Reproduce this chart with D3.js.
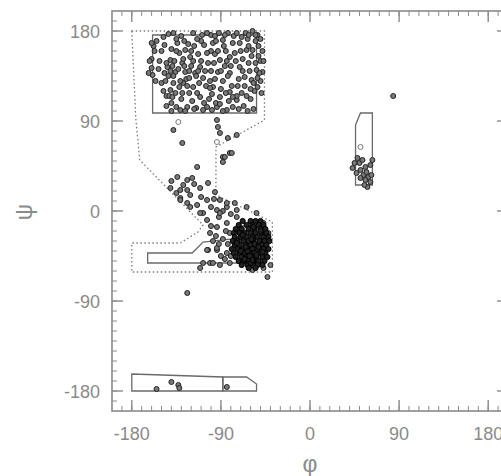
<!DOCTYPE html>
<html lang="en">
  <head>
    <meta charset="utf-8">
    <title>Ramachandran plot</title>
    <style>
      body { margin: 0; background: #fff; }
      svg { display: block; font-family: "Liberation Sans", "DejaVu Sans", sans-serif; }
      .tick-label { fill: #8a8a8a; font-size: 18px; }
      .axis-title { fill: #8a8a8a; font-size: 23px; }
    </style>
  </head>
  <body>
    <script src="https://d3js.org/d3.v7.min.js"></script>
    <script type="text/javascript">

    // tick values (degrees)
    const majorTicks = [-180, -90, 0, 90, 180]
    const minorTicks = d3.range(-190, 191, 10)

    // [phi, psi] points
    const betaPts = [
      [-160,143],[-159,136],[-148,174],[-138,178],[-134,168],[-126,161],[-121,154],[-129,148],
      [-141,151],[-144,144],[-136,139],[-126,139],[-116,138],[-111,144],[-103,148],[-109,176],
      [-98,168],[-88,171],[-78,168],[-69,174],[-64,161],[-81,154],[-91,151],[-93,139],
      [-81,138],[-71,144],[-138,128],[-128,128],[-118,124],[-129,118],[-141,121],[-111,114],
      [-98,124],[-91,114],[-81,119],[-74,111],[-124,104],[-131,101],[-94,104],[-84,101],
      [-78,104],[-58,161],[-54,141],[-48,139],[-53,124],[-59,131],
      [-155,170],[-150,160],[-152,150],[-147,138],[-150,128],[-145,115],[-140,108],[-135,172],
      [-132,158],[-137,150],[-133,142],[-125,132],[-120,145],[-117,165],[-113,157],[-108,133],
      [-105,125],[-100,140],[-96,157],[-92,178],[-85,160],[-86,145],[-75,150],[-72,132],
      [-66,125],[-62,148],[-55,170],[-52,155],[-50,130],[-60,112],[-67,105],[-88,130],
      [-102,112],[-115,103],[-122,118],[-127,170],[-143,177],[-118,178],[-100,176],[-83,178],
      [-65,178],[-58,180],[-140,162],[-146,130],[-130,112],[-110,150],[-96,132],[-79,125],
      [-70,160],[-160,152],[-157,160],[-163,138],[-124,125],[-107,166],[-90,122],[-74,115],
      [-56,120],[-48,160],[-53,176],[-136,118],[-112,128],[-119,110],[-104,104],[-82,110],
      [-95,108],[-128,152],[-138,135],[-145,148],[-115,135],[-84,150],[-68,140],[-62,165],
      [-140,100],[-100,160],[-120,160],
      [-158,165],[-153,142],[-148,120],[-143,135],[-139,145],[-135,160],[-131,130],[-127,145],
      [-123,167],[-122,140],[-118,150],[-114,118],[-110,170],[-106,140],[-104,158],[-101,130],
      [-99,117],[-97,148],[-95,170],[-93,160],[-90,140],[-87,165],[-85,118],[-83,135],
      [-80,145],[-77,175],[-76,158],[-73,125],[-71,168],[-68,152],[-66,134],[-64,115],
      [-63,172],[-61,140],[-59,155],[-57,128],[-55,148],[-52,165],[-51,138],[-49,118],
      [-50,172],[-57,102],[-63,100],[-72,102],[-88,100],[-99,101],[-108,101],[-117,102],
      [-126,100],[-135,104],[-142,115],[-156,130],[-162,150],[-160,168],[-147,166],[-141,140],
      [-130,175],[-114,172],[-104,178],[-96,175],[-86,176],[-74,178],[-62,176],[-55,176],
      [-50,150],[-47,150],[-53,133],[-60,122],[-69,118],[-78,114],[-91,107],[-101,123],
      [-107,108],[-113,140],[-122,133],[-132,124],[-139,114],[-145,105]
    ]

    const bridgePts = [
      [-138,81],[-129,68],[-114,44],[-93,84],[-91,78],[-83,73],[-81,58],[-88,54],
      [-94,91],[-86,54],[-88,49],[-79,58],[-74,76],
      [-134,34],[-124,31],[-119,33],[-141,23],[-131,21],[-124,21],[-121,16],[-131,13],
      [-111,23],[-103,28],[-96,19],[-91,11],[-104,11],[-84,4],[-76,8],[-131,11],
      [-124,8],[-94,1],[-84,8],[-74,1],[-104,-9],[-101,-22],
      [-140,30],[-128,26],[-117,27],[-135,18],[-110,14],[-114,6],[-100,4],[-97,12],
      [-108,-2],[-92,-6],[-88,0],[-80,-3],[-121,4],[-111,-2],[-91,-2],[-94,-16],
      [-84,-12],[-81,-22],[-74,-6],[-64,4],[-54,-2],[-47,-12],[-42,-22]
    ]

    const openPts = [[-133,89],[-94,69],[51,64]]

    const alphaPts = [
      [-68,-10],[-60,-10],[-55,-10],[-50,-10],
      [-72,-14],[-64,-14],[-58,-14],[-52,-14],[-47,-14],
      [-75,-18],[-69,-18],[-62,-18],[-56,-18],[-50,-18],[-45,-18],
      [-77,-22],[-71,-22],[-66,-22],[-60,-22],[-55,-22],[-49,-22],[-44,-22],
      [-76,-26],[-70,-26],[-64,-26],[-58,-26],[-53,-26],[-47,-26],[-42,-26],
      [-78,-30],[-73,-30],[-67,-30],[-62,-30],[-57,-30],[-51,-30],[-46,-30],[-41,-30],
      [-76,-34],[-71,-34],[-65,-34],[-60,-34],[-55,-34],[-49,-34],[-44,-34],
      [-79,-38],[-73,-38],[-68,-38],[-63,-38],[-58,-38],[-53,-38],[-47,-38],[-42,-38],
      [-77,-42],[-71,-42],[-66,-42],[-61,-42],[-56,-42],[-50,-42],[-45,-42],
      [-75,-46],[-69,-46],[-64,-46],[-59,-46],[-54,-46],[-48,-46],[-43,-46],
      [-72,-50],[-67,-50],[-62,-50],[-57,-50],[-52,-50],[-46,-50],
      [-69,-54],[-63,-54],[-58,-54],[-53,-54],[-48,-54],
      [-62,-57],[-55,-57],
      [-74,-32],[-63,-40],[-59,-28],[-52,-36],[-66,-48],[-60,-52],[-54,-44],[-68,-24],
      [-50,-20],[-57,-16],[-65,-36],[-61,-45],[-56,-33],[-70,-40],[-48,-41],[-58,-49]
    ]

    const alphaEdgePts = [
      [-84,-42],[-103,-39],[-94,-39],[-108,-52],[-111,-57],[-101,-52],[-91,-54],[-81,-52],
      [-58,-59],[-43,-66],[-40,-54],[-104,-39],[-94,-37],[-47,-57],[-98,-52],[-124,-82],
      [-100,-15],[-95,-25],[-88,-28],[-85,-20],[-90,-45],[-86,-48],[-80,-45],[-83,-33],
      [-98,-30],[-92,-33]
    ]

    const leftAlphaPts = [
      [43,43],[50,48],[56,44],[61,46],[47,38],[54,36],[59,34],[56,31],[61,29],[58,24],
      [53,51],[63,51],[48,53],[45,48],[51,41],[57,39],[62,36],[51,33],[55,26]
    ]

    const otherPts = [
      [84,115],[-155,-178],[-140,-171],[-133,-174],[-132,-177],[-84,-176]
    ]

    // region outlines [phi, psi]
    const allowedRegion = [
      [-180,180],[-176,93],[-172,51],[-108,-14],[-113,-21],[-131,-32],[-180,-32],[-180,-61],
      [-38,-61],[-38,-11],[-95,16],[-95,64],[-46,91],[-46,180]
    ]
    const coreRegions = [
      [[-159,176],[-54,176],[-54,98],[-159,98]],
      [[-164,-42],[-119,-42],[-108,-31],[-78,-28],[-70,-15],[-50,-15],[-48,-52],[-164,-52]],
      [[46,86],[51,98],[63,98],[63,26],[46,26]],
      [[-180,-163],[-88,-166],[-88,-180],[-180,-180]],
      [[-88,-166],[-64,-166],[-54,-173],[-54,-180],[-88,-180]]
    ]

    const w = 501
    const h = 476
    const frame = { left: 112, right: 508, top: 11, bottom: 411 }

    const x = d3.scaleLinear().domain([-200, 200]).range([frame.left, frame.right])
    const y = d3.scaleLinear().domain([-200, 200]).range([frame.bottom, frame.top])

    const svg = d3.select("body").append("svg")
      .attr("width", w)
      .attr("height", h)

    // soft edge like the scanned original
    svg.append("defs").append("filter")
      .attr("id", "soft")
      .append("feGaussianBlur")
      .attr("stdDeviation", 0.5)

    const line = d3.line().x(d => x(d[0])).y(d => y(d[1]))

    // allowed region (dotted)
    svg.append("path")
      .attr("d", line(allowedRegion) + "Z")
      .attr("fill", "none")
      .attr("stroke", "#7a7a7a")
      .attr("stroke-width", 1.3)
      .attr("stroke-dasharray", "1.5,2.5")

    // core regions (solid)
    svg.selectAll(".core")
      .data(coreRegions)
      .enter().append("path")
      .attr("class", "core")
      .attr("d", d => line(d) + "Z")
      .attr("fill", "none")
      .attr("stroke", "#6a6a6a")
      .attr("stroke-width", 1.3)

    // frame
    svg.append("rect")
      .attr("x", frame.left)
      .attr("y", frame.top)
      .attr("width", frame.right - frame.left)
      .attr("height", frame.bottom - frame.top)
      .attr("fill", "none")
      .attr("stroke", "#8a8a8a")
      .attr("stroke-width", 1.6)

    // inward ticks on all four sides
    const tickColor = "#8a8a8a"
    const addTicks = (vals, len, cls) => {
      const g = svg.append("g").attr("stroke", tickColor).attr("stroke-width", cls === "major" ? 1.4 : 1)
      vals.forEach(v => {
        g.append("line").attr("x1", x(v)).attr("x2", x(v)).attr("y1", frame.bottom).attr("y2", frame.bottom - len)
        g.append("line").attr("x1", x(v)).attr("x2", x(v)).attr("y1", frame.top).attr("y2", frame.top + len)
        g.append("line").attr("y1", y(v)).attr("y2", y(v)).attr("x1", frame.left).attr("x2", frame.left + len)
        g.append("line").attr("y1", y(v)).attr("y2", y(v)).attr("x1", frame.right).attr("x2", frame.right - len)
      })
    }
    addTicks(minorTicks, 5, "minor")
    addTicks(majorTicks, 11, "major")

    svg.selectAll(".xlab")
      .data(majorTicks)
      .enter().append("text")
      .attr("class", "tick-label")
      .attr("x", d => x(d))
      .attr("y", 440)
      .attr("text-anchor", "middle")
      .text(d => d)

    svg.selectAll(".ylab")
      .data(majorTicks)
      .enter().append("text")
      .attr("class", "tick-label")
      .attr("x", 100)
      .attr("y", d => y(d) + 7)
      .attr("text-anchor", "end")
      .text(d => d)

    svg.append("text")
      .attr("class", "axis-title")
      .attr("x", 310)
      .attr("y", 472)
      .attr("text-anchor", "middle")
      .text("φ")

    svg.append("text")
      .attr("class", "axis-title")
      .attr("transform", "translate(32, 212) rotate(-90)")
      .attr("text-anchor", "middle")
      .text("ψ")

    // residue points
    const filled = [].concat(betaPts, bridgePts, alphaEdgePts, leftAlphaPts, otherPts)
    const pts = svg.append("g").attr("filter", "url(#soft)")

    pts.selectAll(".pt")
      .data(filled)
      .enter().append("circle")
      .attr("class", "pt")
      .attr("cx", d => x(d[0]))
      .attr("cy", d => y(d[1]))
      .attr("r", 2.5)
      .attr("fill", "#7a7a7a")
      .attr("stroke", "#222")
      .attr("stroke-width", 1)

    pts.selectAll(".apt")
      .data(alphaPts)
      .enter().append("circle")
      .attr("class", "apt")
      .attr("cx", d => x(d[0]))
      .attr("cy", d => y(d[1]))
      .attr("r", 2.6)
      .attr("fill", "#222")
      .attr("stroke", "#000")
      .attr("stroke-width", 1)

    pts.selectAll(".opt")
      .data(openPts)
      .enter().append("circle")
      .attr("class", "opt")
      .attr("cx", d => x(d[0]))
      .attr("cy", d => y(d[1]))
      .attr("r", 2.5)
      .attr("fill", "#fff")
      .attr("stroke", "#777")
      .attr("stroke-width", 1)

    </script>
  </body>
</html>
